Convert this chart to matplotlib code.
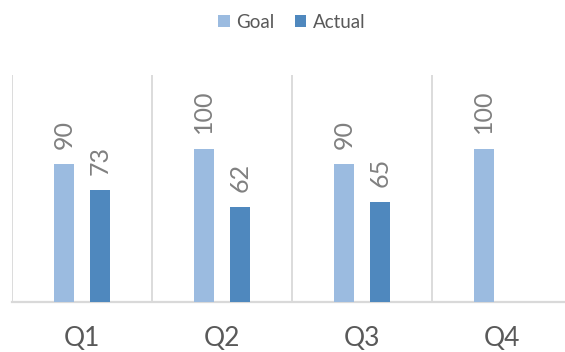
import matplotlib
matplotlib.use("Agg")
import matplotlib.pyplot as plt
import numpy as np

categories = ["Q1", "Q2", "Q3", "Q4"]
goal = [90, 100, 90, 100]
actual = [73, 62, 65, None]

plt.rcParams['font.family'] = ['Lato', 'DejaVu Sans']

fig = plt.figure(figsize=(5.65, 3.52), dpi=100)
W, H = 565, 352
left, right, top, bottom = 12, 572, 75, 302
ax = fig.add_axes([left / W, (H - bottom) / H, (right - left) / W, (bottom - top) / H])

c_goal = "#9BBBE0"
c_act = "#4F88BE"
x = np.arange(len(categories))
bw = 0.14
off = 0.13

gv = np.array(goal, dtype=float)
av = np.array([np.nan if v is None else v for v in actual], dtype=float)
b1 = ax.bar(x - off, gv, bw, color=c_goal, label="Goal", zorder=3)
b2 = ax.bar(x + off, np.nan_to_num(av), bw, color=c_act, label="Actual", zorder=3)

lab_kw = dict(textcoords="offset points", rotation=90, ha="center", va="bottom",
              fontsize=18, color="#808080")
for xi, v in zip(x - off, gv):
    ax.annotate(f"{v:.0f}", (xi, v), xytext=(0, 11), **lab_kw)
for xi, v in zip(x + off, av):
    if not np.isnan(v):
        ax.annotate(f"{v:.0f}", (xi, v), xytext=(0, 11), **lab_kw)

ax.set_xlim(-0.5, len(categories) - 0.5)
ax.set_ylim(0, 148)
for b in np.arange(-0.5, len(categories) + 0.5, 1):
    ax.axvline(b, color="#D9D9D9", lw=1.3, zorder=1)

for s in ["top", "right", "left"]:
    ax.spines[s].set_visible(False)
ax.spines["bottom"].set_color("#D9D9D9")
ax.spines["bottom"].set_linewidth(1.6)
ax.set_yticks([])
ax.set_xticks(x)
ax.set_xticklabels(categories, fontsize=19, color="#595959")
ax.tick_params(axis="x", length=0, pad=17)

leg = ax.legend(loc="center", bbox_to_anchor=(0.5, 1.0 + 53 / (bottom - top)),
                ncol=2, frameon=False, fontsize=13.5, handlelength=0.6, handleheight=0.6,
                handletextpad=0.35, columnspacing=1.1, labelcolor="#595959")

fig.savefig("out.png", dpi=100)
